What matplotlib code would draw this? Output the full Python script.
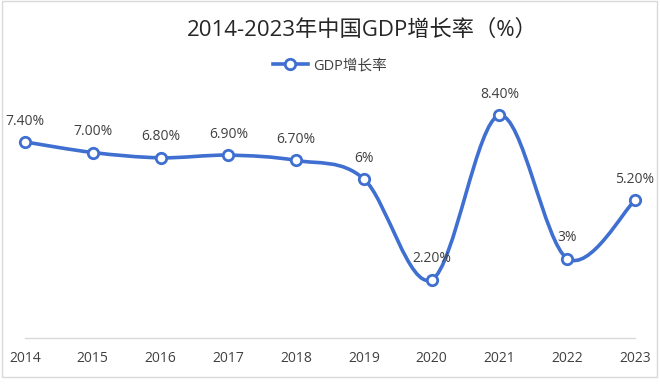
import matplotlib
matplotlib.use("Agg")
import matplotlib.pyplot as plt
from matplotlib.path import Path
from matplotlib.patches import PathPatch, Rectangle
from matplotlib.lines import Line2D

plt.rcParams['font.family'] = ['Open Sans', 'Noto Sans CJK SC', 'DejaVu Sans']

years = ['2014', '2015', '2016', '2017', '2018', '2019', '2020', '2021', '2022', '2023']
growth = [7.4, 7.0, 6.8, 6.9, 6.7, 6.0, 2.2, 8.4, 3.0, 5.2]
labels = ['7.40%', '7.00%', '6.80%', '6.90%', '6.70%', '6%', '2.20%', '8.40%', '3%', '5.20%']

W, H = 660, 389
fig = plt.figure(figsize=(W / 100, H / 100), dpi=100)
fig.patch.set_facecolor('white')

# frame
fig.add_artist(Rectangle((2 / W, 12 / H), 655 / W, 376 / H, transform=fig.transFigure,
                         fill=False, edgecolor='#D9D9D9', linewidth=1.0))

ax = fig.add_axes([25 / W, (H - 338) / H, 610 / W, 238.5 / H])
ax.set_xlim(0, len(years) - 1)
ax.set_ylim(0, 9)

blue = '#3F6FD0'
xs = list(range(len(years)))
ys = growth

# smooth curve (Catmull-Rom as cubic Bezier)
verts = [(xs[0], ys[0])]
codes = [Path.MOVETO]
n = len(xs)
for i in range(n - 1):
    p0 = (xs[max(i - 1, 0)], ys[max(i - 1, 0)])
    p1 = (xs[i], ys[i])
    p2 = (xs[i + 1], ys[i + 1])
    p3 = (xs[min(i + 2, n - 1)], ys[min(i + 2, n - 1)])
    c1 = (p1[0] + (p2[0] - p0[0]) / 6, p1[1] + (p2[1] - p0[1]) / 6)
    c2 = (p2[0] - (p3[0] - p1[0]) / 6, p2[1] - (p3[1] - p1[1]) / 6)
    verts += [c1, c2, p2]
    codes += [Path.CURVE4] * 3
ax.add_patch(PathPatch(Path(verts, codes), facecolor='none', edgecolor=blue,
                       linewidth=2.6, clip_on=False, zorder=2, capstyle='round'))

ax.plot(xs, ys, linestyle='none', marker='o', markersize=7.5, markerfacecolor='white',
        markeredgecolor=blue, markeredgewidth=2.0, clip_on=False, zorder=3)

for x, y, lab in zip(xs, ys, labels):
    ax.annotate(lab, (x, y), xytext=(0, 15), textcoords='offset points', ha='center',
                va='center', fontsize=10, color='#404040')

for s in ['top', 'right', 'left']:
    ax.spines[s].set_visible(False)
ax.spines['bottom'].set_color('#D9D9D9')
ax.spines['bottom'].set_linewidth(1.0)
ax.set_yticks([])
ax.set_xticks(xs)
ax.set_xticklabels(years, fontsize=10, color='#404040')
ax.tick_params(axis='x', length=0, pad=9)
ax.patch.set_alpha(0)

fig.text(362 / W, 1 - 30 / H, '2014-2023年中国GDP增长率（%）', ha='center', va='center',
         fontsize=16, color='#262626')

# legend
h = Line2D([0], [0], color=blue, linewidth=2.6, marker='o', markersize=7.5,
           markerfacecolor='white', markeredgecolor=blue, markeredgewidth=2.0)
fig.legend([h], ['GDP增长率'], loc='center', bbox_to_anchor=(330 / W, 1 - 66 / H),
           frameon=False, fontsize=10.5, handlelength=2.4, labelcolor='#404040',
           handletextpad=0.4)

fig.savefig('out.png', dpi=100)
